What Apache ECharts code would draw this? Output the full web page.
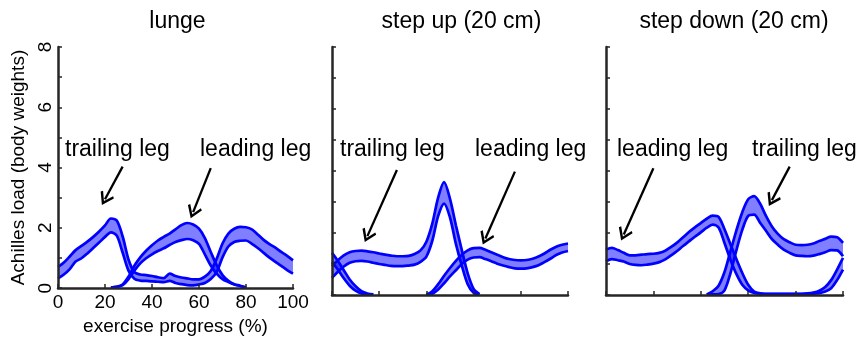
<!DOCTYPE html>
<html>
<head>
<meta charset="utf-8">
<script src="https://cdn.jsdelivr.net/npm/echarts@6/dist/echarts.min.js"></script>
<style>
html, body { margin: 0; background: #fff; }
#chart { width: 860px; height: 341px; }
</style>
</head>
<body>
<div id="chart"></div>
<script>
var _ = null;
// exercise progress (%), shared by every curve
var xs = [0,2.5,5,7.5,10,12.5,15,17.5,20,22.5,
          25,27.5,30,32.5,35,37.5,40,42.5,45,47.5,
          50,52.5,55,57.5,60,62.5,65,67.5,70,72.5,
          75,77.5,80,82.5,85,87.5,90,92.5,95,97.5,
          100];

var titles = ['lunge', 'step up (20 cm)', 'step down (20 cm)'];

// lunge
var lungeTrailUp = [0.70,0.85,1.05,1.26,1.40,1.54,1.70,1.88,2.08,2.31,
                    2.24,1.72,0.95,0.53,0.45,0.43,0.40,0.36,0.33,0.48,
                    0.40,0.35,0.32,0.29,0.29,0.38,0.57,0.97,1.48,1.81,
                    1.97,2.03,2.02,1.95,1.78,1.60,1.46,1.34,1.20,1.07,
                    0.92];
var lungeTrailLo = [0.32,0.45,0.63,0.88,0.99,1.15,1.33,1.51,1.70,1.85,
                    1.74,1.18,0.58,0.31,0.25,0.24,0.22,0.21,0.20,0.24,
                    0.17,0.13,0.10,0.09,0.12,0.17,0.30,0.53,1.02,1.38,
                    1.53,1.57,1.58,1.47,1.33,1.17,1.01,0.87,0.74,0.60,
                    0.48];
var lungeLeadUp = [_,_,_,_,_,_,_,_,_,0.02,
                   0.04,0.12,0.38,0.74,1.02,1.24,1.42,1.58,1.70,1.81,
                   1.95,2.09,2.16,2.11,1.97,1.66,1.20,0.76,0.43,0.24,
                   0.13,0.08,0.02,_,_,_,_,_,_,_,
                   _];
var lungeLeadLo = [_,_,_,_,_,_,_,_,_,0.02,
                   0.04,0.10,0.30,0.58,0.82,0.99,1.12,1.23,1.32,1.43,
                   1.53,1.59,1.63,1.59,1.47,1.12,0.75,0.48,0.30,0.20,
                   0.12,0.07,0.02,_,_,_,_,_,_,_,
                   _];

// step up
var upTrailUp = [0.93,1.12,1.28,1.38,1.42,1.43,1.41,1.38,1.34,1.30,
                 1.27,1.25,1.25,1.26,1.32,1.44,1.72,2.30,3.15,3.64,
                 3.10,2.25,1.45,0.70,0.20,0.03,_,_,_,_,
                 _,_,_,_,_,_,_,_,_,_,
                 _];
var upTrailLo = [0.55,0.75,0.92,1.04,1.09,1.10,1.08,1.04,1.00,0.97,
                 0.94,0.93,0.93,0.95,0.98,1.07,1.24,1.75,2.55,2.95,
                 2.50,1.65,0.95,0.35,0.07,0.01,_,_,_,_,
                 _,_,_,_,_,_,_,_,_,_,
                 _];
var upLeadUp = [1.36,1.10,0.80,0.50,0.28,0.12,0.05,0.02,_,_,
                _,_,_,_,_,_,0.01,0.12,0.35,0.62,
                0.87,1.10,1.30,1.44,1.51,1.52,1.46,1.38,1.30,1.22,
                1.16,1.13,1.12,1.13,1.17,1.24,1.34,1.46,1.56,1.62,
                1.66];
var upLeadLo = [1.06,0.82,0.54,0.30,0.14,0.05,0.02,0.01,_,_,
                _,_,_,_,_,_,0.01,0.04,0.18,0.38,
                0.60,0.80,1.00,1.14,1.21,1.22,1.16,1.09,1.01,0.95,
                0.90,0.86,0.85,0.86,0.90,0.96,1.06,1.17,1.29,1.37,
                1.42];

// step down
var downLeadUp = [1.47,1.52,1.45,1.36,1.28,1.28,1.30,1.32,1.33,1.36,
                  1.43,1.55,1.69,1.86,2.03,2.18,2.32,2.46,2.56,2.52,
                  2.12,1.64,1.16,0.71,0.33,0.11,0.05,0.04,0.04,0.04,
                  0.04,0.04,0.04,0.04,0.05,0.08,0.14,0.26,0.48,0.82,
                  1.20];
var downLeadLo = [1.09,1.16,1.12,1.08,1.00,0.97,0.96,0.98,1.01,1.06,
                  1.15,1.28,1.42,1.58,1.73,1.88,2.02,2.17,2.27,2.18,
                  1.68,1.14,0.68,0.33,0.15,0.07,0.04,0.03,0.03,0.03,
                  0.03,0.03,0.03,0.03,0.03,0.04,0.06,0.11,0.22,0.48,
                  0.82];
var downTrailUp = [_,_,_,_,_,_,_,_,_,_,
                   _,_,_,_,_,_,_,0.02,0.12,0.30,
                   0.74,1.41,2.08,2.67,3.09,3.19,2.95,2.55,2.21,1.97,
                   1.80,1.70,1.62,1.61,1.62,1.66,1.74,1.81,1.88,1.86,
                   1.68];
var downTrailLo = [_,_,_,_,_,_,_,_,_,_,
                   _,_,_,_,_,_,_,0.01,0.02,0.03,
                   0.15,0.70,1.44,2.10,2.55,2.59,2.33,2.07,1.80,1.62,
                   1.46,1.36,1.28,1.26,1.25,1.27,1.32,1.38,1.45,1.44,
                   1.25];

// arrows: [panel, from, to] in data units (x in %)
var arrows = [
    [0, [27.1, 4.03], [20.3, 2.95]],
    [0, [66.1, 3.98], [56.8, 2.52]],
    [1, [27.7, 4.03], [15.2, 1.90]],
    [1, [76.8, 3.98], [64.6, 1.82]],
    [2, [20.7, 4.09], [8.5, 1.95]],
    [2, [76.9, 4.14], [69.7, 3.06]]
];

var FONT = '"Liberation Sans", Arial, Helvetica, sans-serif';
var BLUE = '#0000ff';
var AXIS = '#262626';
var STEP = xs[1] - xs[0];
var arrowHead = 'path://M10,0 L20,13 L17.6,15 L10,5 L2.4,15 L0,13 Z';

var grids = [
    {left: 58, top: 47, width: 235, height: 248},
    {left: 332, top: 47, width: 236, height: 248},
    {left: 606, top: 47, width: 237, height: 248}
];

function band(g, name, lo, up) {
    var base = {
        type: 'line', xAxisIndex: g, yAxisIndex: g, stack: name,
        smooth: 0.3, symbol: 'none', silent: true,
        lineStyle: {color: BLUE, width: 2.7},
        data: lo.map(function (v) { return v == null ? '-' : v; })
    };
    var top = {
        type: 'line', xAxisIndex: g, yAxisIndex: g, stack: name,
        smooth: 0.3, symbol: 'none', silent: true,
        lineStyle: {color: BLUE, width: 2.7},
        areaStyle: {color: 'rgba(0,0,255,0.5)', opacity: 1},
        data: up.map(function (v, i) {
            if (v == null || lo[i] == null) return '-';
            return +(v - lo[i]).toFixed(3);
        })
    };
    return [base, top];
}

var series = [].concat(
    band(0, 'lt', lungeTrailLo, lungeTrailUp),
    band(0, 'll', lungeLeadLo, lungeLeadUp),
    band(1, 'ut', upTrailLo, upTrailUp),
    band(1, 'ul', upLeadLo, upLeadUp),
    band(2, 'dl', downLeadLo, downLeadUp),
    band(2, 'dt', downTrailLo, downTrailUp)
);

// arrows as a markLine on the first band series of each panel
[0, 4, 8].forEach(function (si, g) {
    series[si].markLine = {
        silent: true, animation: false,
        symbol: ['none', arrowHead], symbolSize: [15, 13],
        lineStyle: {color: '#000', width: 2.3, type: 'solid'},
        label: {show: false},
        emphasis: {disabled: true},
        data: arrows.filter(function (a) { return a[0] === g; }).map(function (a) {
            return [{coord: [a[1][0] / STEP, a[1][1]]}, {coord: [a[2][0] / STEP, a[2][1]]}];
        })
    };
});

function every20(i) { return xs[i] % 20 === 0; }

var xAxes = grids.map(function (gr, g) {
    return {
        type: 'category', gridIndex: g, data: xs.map(String), boundaryGap: false, z: 10,
        name: g === 0 ? 'exercise progress (%)' : '',
        nameLocation: 'middle', nameGap: 22,
        nameTextStyle: {fontSize: 19, color: '#000', fontFamily: FONT},
        axisLine: {show: true, lineStyle: {color: AXIS, width: 2.5}},
        axisTick: {show: true, inside: true, length: 4, interval: every20, lineStyle: {color: AXIS, width: 1.5}},
        axisLabel: {show: g === 0, interval: every20, fontSize: 19, color: '#000', margin: 5, fontFamily: FONT},
        splitLine: {show: false}
    };
});

var yAxes = grids.map(function (gr, g) {
    return {
        type: 'value', gridIndex: g, min: 0, max: 8, interval: 1, z: 10,
        name: g === 0 ? 'Achilles load (body weights)' : '',
        nameLocation: 'middle', nameGap: 30,
        nameTextStyle: {fontSize: 19, color: '#000', fontFamily: FONT},
        axisLine: {show: true, lineStyle: {color: AXIS, width: 2.5}},
        axisTick: {show: true, inside: true, length: 4, lineStyle: {color: AXIS, width: 1.5}},
        axisLabel: {
            show: g === 0, rotate: 90, fontSize: 19, color: '#000', margin: 3, fontFamily: FONT,
            formatter: function (v) { return v % 2 === 0 ? String(v) : ''; }
        },
        splitLine: {show: false}
    };
});

function txt(s, x, y, align) {
    return {
        type: 'text', x: x, y: y, silent: true, z: 20,
        style: {text: s, font: '23px ' + FONT, fill: '#000', align: align, verticalAlign: 'middle'}
    };
}

var graphics = [
    txt(titles[0], 177.5, 22, 'center'),
    txt(titles[1], 461.5, 22, 'center'),
    txt(titles[2], 734, 22, 'center'),
    txt('trailing leg', 65, 150, 'left'),
    txt('leading leg', 200, 150, 'left'),
    txt('trailing leg', 340, 150, 'left'),
    txt('leading leg', 475, 150, 'left'),
    txt('leading leg', 617, 150, 'left'),
    txt('trailing leg', 752, 150, 'left')
];

var chart = echarts.init(document.getElementById('chart'));
chart.setOption({
    animation: false,
    textStyle: {fontFamily: FONT},
    grid: grids,
    xAxis: xAxes,
    yAxis: yAxes,
    graphic: graphics,
    series: series
});
</script>
</body>
</html>
